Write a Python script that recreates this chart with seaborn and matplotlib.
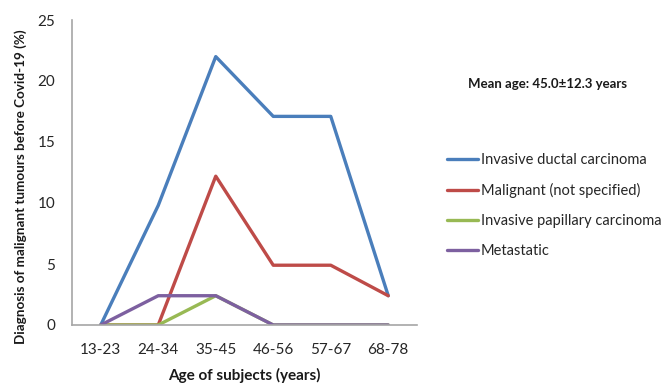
import matplotlib
matplotlib.use("Agg")
import matplotlib.pyplot as plt
import seaborn as sns
import pandas as pd

age_groups = ["13-23", "24-34", "35-45", "46-56", "57-67", "68-78"]
ductal = [0, 9.8, 22.0, 17.1, 17.1, 2.4]
malignant = [0, 0, 12.2, 4.9, 4.9, 2.4]
papillary = [0, 0, 2.4, 0, 0, 0]
metastatic = [0, 2.4, 2.4, 0, 0, 0]

series_names = ["Invasive ductal carcinoma", "Malignant (not specified)",
                "Invasive papillary carcinoma", "Metastatic"]
colors = ["#4a7ebb", "#be4b48", "#98b954", "#7d60a0"]

rows = []
for name, vals in zip(series_names, [ductal, malignant, papillary, metastatic]):
    for i, (g, v) in enumerate(zip(age_groups, vals)):
        rows.append({"pos": i, "group": g, "value": v, "type": name})
df = pd.DataFrame(rows)

sns.set_style("white")
plt.rcParams["font.family"] = ["Lato", "DejaVu Sans"]

fig = plt.figure(figsize=(6.64, 3.83), dpi=100)
ax = fig.add_axes([72 / 664, 1 - 325 / 383, 345 / 664, 305 / 383])

sns.lineplot(data=df, x="pos", y="value", hue="type", hue_order=series_names,
             palette=colors, linewidth=2.4, ax=ax, legend=False, sort=False)

ax.set_xlim(-0.5, 5.5)
ax.set_ylim(0, 25)
ax.set_xticks(range(len(age_groups)))
ax.set_xticklabels(age_groups)
ax.set_yticks([0, 5, 10, 15, 20, 25])
ax.tick_params(axis="both", length=0, labelsize=11, colors="#262626")
ax.tick_params(axis="x", pad=13)
ax.tick_params(axis="y", pad=12)
for s in ["top", "right"]:
    ax.spines[s].set_visible(False)
for s in ["left", "bottom"]:
    ax.spines[s].set_color("#a6a6a6")
    ax.spines[s].set_linewidth(1.2)

ax.set_xlabel("Age of subjects (years)", fontsize=11, fontweight="bold",
              labelpad=8, color="#1a1a1a")
ax.set_ylabel("Diagnosis of malignant tumours before Covid-19 (%)", fontsize=9.7,
              fontweight="bold", color="#1a1a1a")
ax.yaxis.set_label_coords(-0.13, 0.455)

fig.text(547 / 664, 1 - 84 / 383, "Mean age: 45.0\u00b112.3 years", fontsize=9.5,
         fontweight="bold", ha="center", va="center", color="#1a1a1a")

handles = [plt.Line2D([0], [0], color=c, lw=2.4) for c in colors]
fig.legend(handles, series_names, loc="upper left",
           bbox_to_anchor=(434 / 664, 1 - 140 / 383), frameon=False,
           fontsize=10.5, handlelength=2.1, handletextpad=0.2, labelspacing=1.1,
           labelcolor="#262626")

fig.savefig("out.png", dpi=100)
